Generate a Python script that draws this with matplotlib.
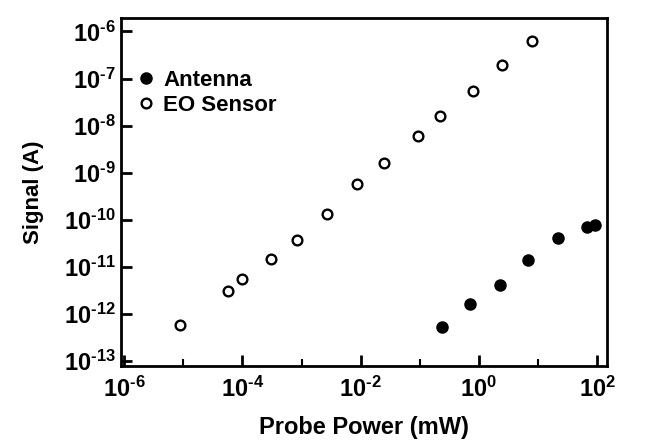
import numpy as np
import matplotlib
matplotlib.use('Agg')
import matplotlib.pyplot as plt
from matplotlib.ticker import FixedLocator, FuncFormatter, NullFormatter

plt.rcParams['font.family'] = ['Liberation Sans', 'DejaVu Sans']
plt.rcParams['font.weight'] = 'bold'
plt.rcParams['axes.labelweight'] = 'bold'
plt.rcParams['mathtext.fontset'] = 'custom'
plt.rcParams['mathtext.rm'] = 'Liberation Sans:bold'
plt.rcParams['mathtext.default'] = 'rm'

# data
eo_power = [8.9e-6, 5.8e-5, 1.0e-4, 3.1e-4, 8.5e-4, 2.7e-3, 8.7e-3, 2.5e-2, 9.3e-2, 0.22, 0.8, 2.5, 7.8]
eo_signal = [5.9e-13, 3.1e-12, 5.5e-12, 1.5e-11, 3.7e-11, 1.3e-10, 5.8e-10, 1.6e-9, 6.1e-9, 1.6e-8, 5.5e-8, 1.9e-7, 6.2e-7]

antenna_power = [0.24, 0.72, 2.3, 6.9, 22, 68, 93]
antenna_signal = [5.2e-13, 1.6e-12, 4.2e-12, 1.4e-11, 4.2e-11, 7.1e-11, 7.8e-11]

x_major = [1e-6, 1e-4, 1e-2, 1e0, 1e2]
x_minor = [1e-5, 1e-3, 1e-1, 1e1]
y_major = [1e-13, 1e-12, 1e-11, 1e-10, 1e-9, 1e-8, 1e-7, 1e-6]


def pow_label(v, pos):
    e = int(round(np.log10(v)))
    return r'$10^{\text{%d}}$' % e


fig = plt.figure(figsize=(6.48, 4.44), dpi=100)
ax = fig.add_axes([0.187, 0.176, 0.75, 0.783])

ax.plot(antenna_power, antenna_signal, 'o', color='black', ms=8, label='Antenna')
ax.plot(eo_power, eo_signal, 'o', mfc='white', mec='black', mew=1.7, ms=7, label='EO Sensor')

ax.set_xscale('log')
ax.set_yscale('log')
ax.set_xlim(10**-6.05, 10**2.17)
ax.set_ylim(10**-13.1, 10**-5.72)

ax.xaxis.set_major_locator(FixedLocator(x_major))
ax.xaxis.set_minor_locator(FixedLocator(x_minor))
ax.xaxis.set_major_formatter(FuncFormatter(pow_label))
ax.xaxis.set_minor_formatter(NullFormatter())
ax.yaxis.set_major_locator(FixedLocator(y_major))
ax.yaxis.set_minor_locator(FixedLocator([]))
ax.yaxis.set_major_formatter(FuncFormatter(pow_label))

ax.tick_params(which='major', direction='in', length=8, width=2, labelsize=17,
               top=False, right=False)
ax.tick_params(which='minor', direction='in', length=5, width=1.5, top=False, right=False)
ax.tick_params(axis='x', pad=8)
ax.tick_params(axis='y', pad=4)

for sp in ax.spines.values():
    sp.set_linewidth(2)

ax.set_xlabel('Probe Power (mW)', fontsize=17, labelpad=10)
ax.set_ylabel('Signal (A)', fontsize=16, labelpad=14)

ax.legend(loc='upper left', bbox_to_anchor=(0.0, 0.89), frameon=False, fontsize=16,
          handletextpad=0.3, labelspacing=0.2, borderaxespad=0.2, handlelength=1.0)

fig.savefig('out.png', dpi=100)
